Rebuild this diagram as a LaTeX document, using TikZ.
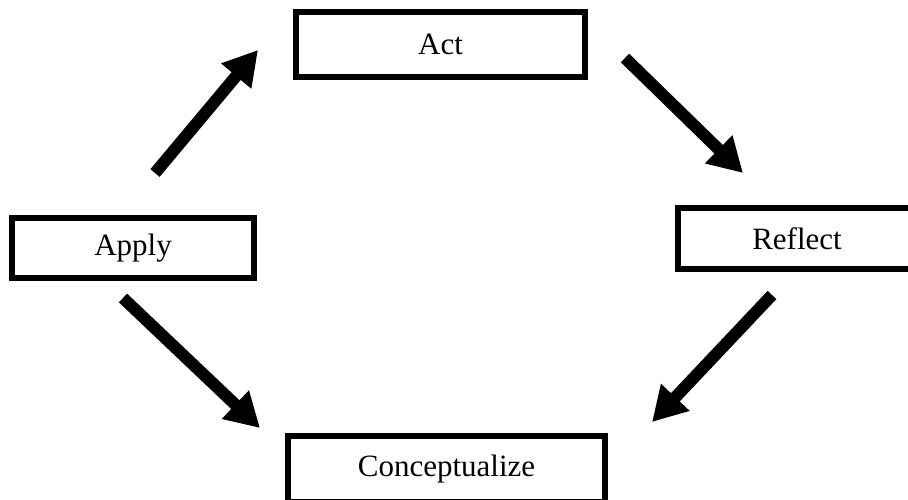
\documentclass[tikz,border=0pt]{standalone}
\usepackage{fontspec}
\setmainfont{Liberation Serif}
\usetikzlibrary{arrows.meta}
\tikzset{
  stagebox/.style={draw=black, line width=6pt, fill=white, inner sep=0pt,
    font=\fontsize{31}{37}\selectfont},
  cyclearrow/.style={line width=12pt, -{Triangle[length=34pt,width=37pt]}}
}
\begin{document}
\begin{tikzpicture}[x=1pt,y=-1pt]
\useasboundingbox (0,0) rectangle (908,499);
\clip (0,0) rectangle (908,499);
\node[stagebox, minimum width=289pt, minimum height=65pt] (act) at (440.5,44.5) {Act};
\node[stagebox, minimum width=242pt, minimum height=60pt] (apply) at (133,248) {Apply};
\node[stagebox, minimum width=238pt, minimum height=61pt] (reflect) at (797,238.5) {Reflect};
\node[stagebox, minimum width=317pt, minimum height=66pt] (concept) at (446.5,469) {Conceptualize};
\coordinate (a1) at (155,173);
\coordinate (a2) at (258,50);
\coordinate (b1) at (625,58);
\coordinate (b2) at (743,173);
\coordinate (c1) at (772,295);
\coordinate (c2) at (652,422);
\coordinate (d1) at (123,298);
\coordinate (d2) at (260,428);
\draw[cyclearrow] (a1) -- (a2);
\draw[cyclearrow] (b1) -- (b2);
\draw[cyclearrow] (c1) -- (c2);
\draw[cyclearrow] (d1) -- (d2);
\end{tikzpicture}
\end{document}
